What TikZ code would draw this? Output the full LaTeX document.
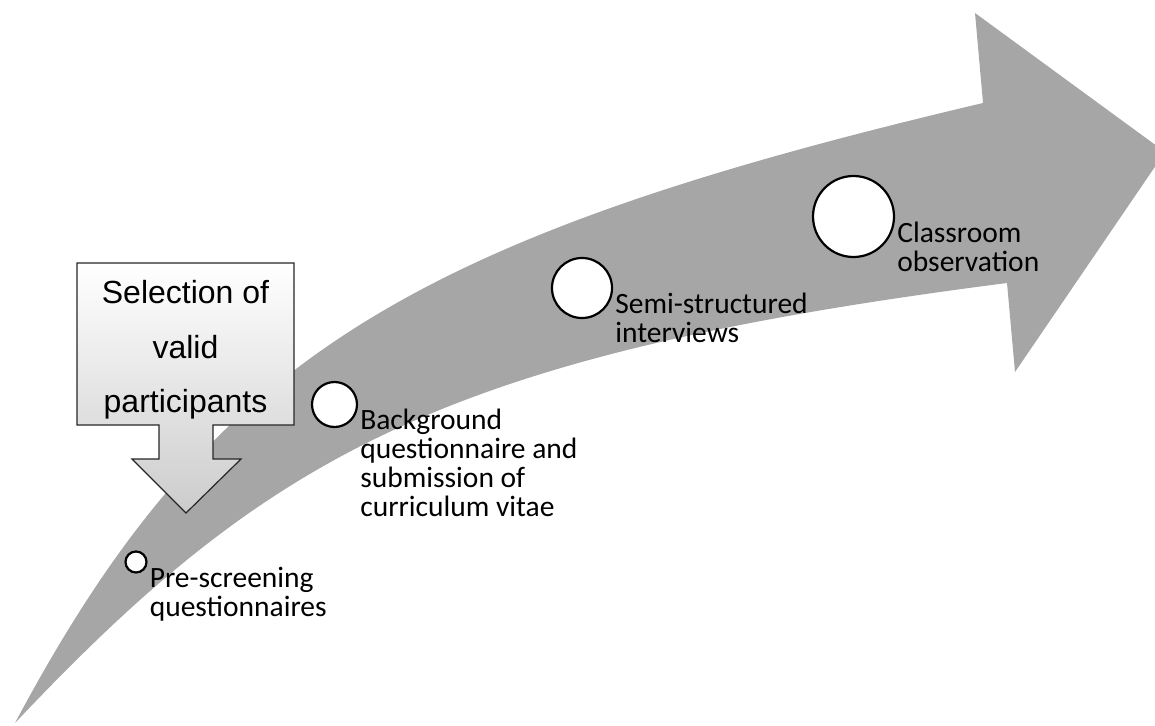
\documentclass[tikz,border=0pt]{standalone}
\usepackage{fontspec}
\setmainfont{Carlito}
\newfontfamily\boxfont{Liberation Sans}
\usetikzlibrary{positioning}
\definecolor{bandgray}{RGB}{166,166,166}

\begin{document}
\begin{tikzpicture}[x=1pt,y=-1pt,
  stepdot/.style={circle,draw=black,fill=white,line width=2.2pt,inner sep=0pt},
  steptext/.style={anchor=north west,align=left,inner sep=0pt,
    font=\fontsize{29.5}{29}\selectfont,execute at begin node=\strut},
  boxtext/.style={align=center,inner sep=0pt,
    font=\boxfont\fontsize{32}{54.5}\selectfont},
  ]
\path[use as bounding box,clip] (0,0) rectangle (1155,725);
% the curved arrow
\fill[bandgray] (15,723) .. controls (207,363) and (401,240) .. (983,103)
  -- (975,13) -- (1165,152) -- (1015,372) -- (1007,283)
  .. controls (446,355) and (270,453) .. (15,723) -- cycle;
% selection callout
\shadedraw[top color=white,bottom color=black!20,draw=black!85,line width=1.2pt]
  (77,263) -- (294,263) -- (294,425) -- (213,425) -- (213,459) -- (241,459)
  -- (186,513) -- (132,459) -- (159,459) -- (159,425) -- (77,425) -- cycle;
\node[boxtext] (sel) at (185.5,350) {Selection of\\valid\\participants};
% steps along the arrow
\node[stepdot,minimum size=21pt] (c1) at (136,562) {};
\node[stepdot,minimum size=45pt] (c2) at (334.5,404.5) {};
\node[stepdot,minimum size=60pt] (c3) at (582,288) {};
\node[stepdot,minimum size=81pt] (c4) at (853.5,216.5) {};
\node[steptext] (t1) at ([shift={(2,5)}]c1.east) {Pre-screening\\questionnaires};
\node[steptext] (t2) at ([shift={(2,4)}]c2.east) {Background\\questionnaire and\\submission of\\curriculum vitae};
\node[steptext] (t3) at ([shift={(2,5)}]c3.east) {Semi-structured\\interviews};
\node[steptext] (t4) at ([shift={(2,5)}]c4.east) {Classroom\\observation};
\end{tikzpicture}
\end{document}
